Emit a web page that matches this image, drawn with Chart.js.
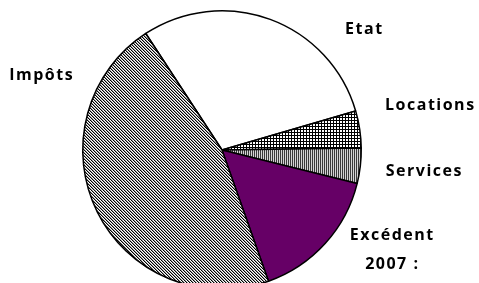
<!DOCTYPE html>
<html>
<head>
<meta charset="utf-8">
<script src="https://cdn.jsdelivr.net/npm/chart.js@4"></script>
<style>
  html, body { margin: 0; padding: 0; background: #fff; overflow: hidden; }
  #wrap { position: relative; width: 479px; height: 300px; }
</style>
</head>
<body>
<div id="wrap"><canvas id="c"></canvas></div>
<script>
// ---- data ----
const categories = ['Etat', 'Locations', 'Services', ['Excédent', '2007 :'], 'Impôts'];
const values = [29.7, 4.3, 4.1, 15.7, 46.2];

// label anchors, in pie-radius units relative to the pie centre
const labelAnchors = [
  [1.022, -0.864],
  [1.496, -0.321],
  [1.453, 0.151],
  [1.223, 0.611],
  [-1.295, -0.533]
];

// ---- patterns ----
function makePattern(w, h, bg, drawFn) {
  const c = document.createElement('canvas');
  c.width = w; c.height = h;
  const x = c.getContext('2d');
  x.fillStyle = bg; x.fillRect(0, 0, w, h);
  drawFn(x);
  return x.createPattern(c, 'repeat');
}
const gridPattern = makePattern(3, 3, '#ffffff', x => {
  x.fillStyle = '#000';
  x.fillRect(0, 0, 3, 1);
  x.fillRect(0, 0, 1, 3);
});
const vertPattern = makePattern(2, 1, '#d4d4d4', x => {
  x.fillStyle = '#3a3a3a';
  x.fillRect(0, 0, 1, 1);
});
const diagPattern = makePattern(3, 3, '#ffffff', x => {
  for (let y = 0; y < 3; y++) {
    x.fillStyle = '#000';
    x.fillRect(y % 3, y, 1, 1);
    x.fillStyle = '#9a9a9a';
    x.fillRect((y + 1) % 3, y, 1, 1);
  }
});
const fills = ['#ffffff', gridPattern, vertPattern, '#660066', diagPattern];

const labelPlugin = {
  id: 'outerLabels',
  afterDatasetsDraw(chart) {
    const arc = chart.getDatasetMeta(0).data[0];
    const cx = arc.x, cy = arc.y, r = arc.outerRadius;
    const ctx = chart.ctx;
    ctx.save();
    ctx.fillStyle = '#000';
    ctx.font = 'bold 16px "Open Sans"';
    ctx.letterSpacing = '1.5px';
    ctx.textAlign = 'center';
    ctx.textBaseline = 'middle';
    chart.data.labels.forEach((lab, i) => {
      const lines = Array.isArray(lab) ? lab : [lab];
      const px = cx + labelAnchors[i][0] * r;
      const py = cy + labelAnchors[i][1] * r;
      lines.forEach((t, j) => ctx.fillText(t, px, py + j * 29));
    });
    ctx.restore();
  }
};

new Chart(document.getElementById('c'), {
  type: 'pie',
  data: {
    labels: categories,
    datasets: [{
      data: values,
      backgroundColor: fills,
      borderColor: '#000000',
      borderWidth: 1.5,
      borderAlign: 'center'
    }]
  },
  options: {
    responsive: true,
    maintainAspectRatio: false,
    animation: false,
    rotation: -33.2,
    layout: { padding: { left: 82, right: 117, top: 10, bottom: 10 } },
    plugins: {
      legend: { display: false },
      tooltip: { enabled: false }
    }
  },
  plugins: [labelPlugin]
});
</script>
</body>
</html>
